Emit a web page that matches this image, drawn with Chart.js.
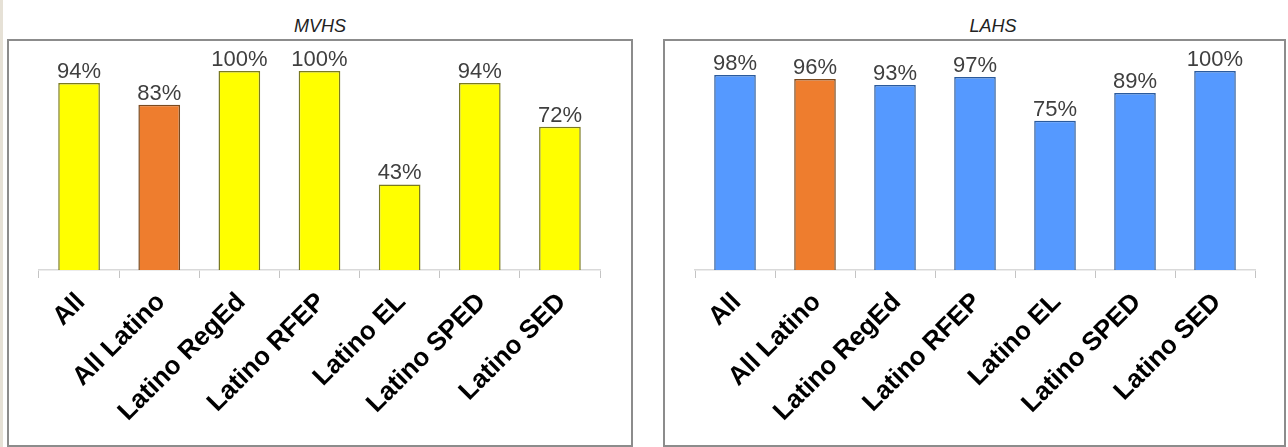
<!DOCTYPE html>
<html>
<head>
<meta charset="utf-8">
<script src="https://cdn.jsdelivr.net/npm/chart.js@4/dist/chart.umd.min.js"></script>
<style>
  html, body { margin: 0; padding: 0; background: #fff; }
  body { width: 1288px; height: 447px; position: relative; overflow: hidden; font-family: "Liberation Sans", Arial, sans-serif; }
  .strip { position: absolute; left: 0; top: 0; width: 3px; height: 447px; background: #e6e1d6; }
  .ptitle { position: absolute; top: 16px; font-style: italic; font-size: 18px; color: #222; text-align: center; width: 200px; }
  .panel { position: absolute; top: 39px; height: 408px; border: 2px solid #8c8c8c; box-sizing: border-box; background: #fff; }
  .panel canvas { display: block; }
</style>
</head>
<body>
<div class="strip"></div>
<div class="ptitle" style="left:220px">MVHS</div>
<div class="ptitle" style="left:893px">LAHS</div>
<div class="panel" id="p1" style="left:7px; width:626px"><canvas id="mvhs"></canvas></div>
<div class="panel" id="p2" style="left:663px; width:623px"><canvas id="lahs"></canvas></div>

<script>
// categories, shared by both schools
const groups = ['All', 'All Latino', 'Latino RegEd', 'Latino RFEP', 'Latino EL', 'Latino SPED', 'Latino SED'];

// percent values
const mvhsValues = [94, 83, 100, 100, 43, 94, 72];
const lahsValues = [98, 96, 93, 97, 75, 89, 100];

// value labels above each bar
const valueLabels = {
    id: 'valueLabels',
    afterDatasetsDraw(chart) {
        const ctx = chart.ctx;
        const meta = chart.getDatasetMeta(0);
        ctx.save();
        ctx.font = '22px "Liberation Sans", Arial, sans-serif';
        ctx.fillStyle = '#3f3f3f';
        ctx.textAlign = 'center';
        ctx.textBaseline = 'alphabetic';
        meta.data.forEach((bar, i) => {
            const v = chart.data.datasets[0].data[i];
            ctx.fillText(v + '%', bar.x, bar.y - 5);
        });
        ctx.restore();
    }
};

function makeChart(id, values, mainColor, mainBorder, padRight) {
    const canvas = document.getElementById(id);
    const box = canvas.parentElement;
    canvas.width = box.clientWidth;
    canvas.height = box.clientHeight;

    // "All Latino" is highlighted in orange
    const fill = groups.map(g => g === 'All Latino' ? '#ee7d2e' : mainColor);
    const stroke = groups.map(g => g === 'All Latino' ? '#7a4a20' : mainBorder);

    return new Chart(canvas.getContext('2d'), {
        type: 'bar',
        data: {
            labels: groups,
            datasets: [{
                data: values,
                backgroundColor: fill,
                borderColor: stroke,
                borderWidth: 1.5,
                barPercentage: 0.52,
                categoryPercentage: 1
            }]
        },
        options: {
            responsive: false,
            animation: false,
            layout: { padding: { top: 30, left: 30, right: padRight, bottom: 0 } },
            plugins: {
                legend: { display: false },
                tooltip: { enabled: false }
            },
            scales: {
                x: {
                    grid: {
                        display: true,
                        drawOnChartArea: false,
                        drawTicks: true,
                        tickLength: 8,
                        color: '#c4c4c4',
                        offset: true
                    },
                    border: { display: true, color: '#d9d9d9', width: 1.5 },
                    ticks: {
                        minRotation: 45,
                        maxRotation: 45,
                        padding: 9,
                        labelOffset: 2,
                        color: '#000',
                        font: { family: '"Liberation Sans", Arial, sans-serif', size: 26, weight: 'bold' }
                    },
                    afterFit(scale) { scale.height = 175; }
                },
                y: {
                    display: false,
                    min: 0,
                    max: 100
                }
            }
        },
        plugins: [valueLabels]
    });
}

makeChart('mvhs', mvhsValues, '#ffff00', '#7a7a20', 31);
makeChart('lahs', lahsValues, '#5599ff', '#2a5a9c', 29);
</script>
</body>
</html>
